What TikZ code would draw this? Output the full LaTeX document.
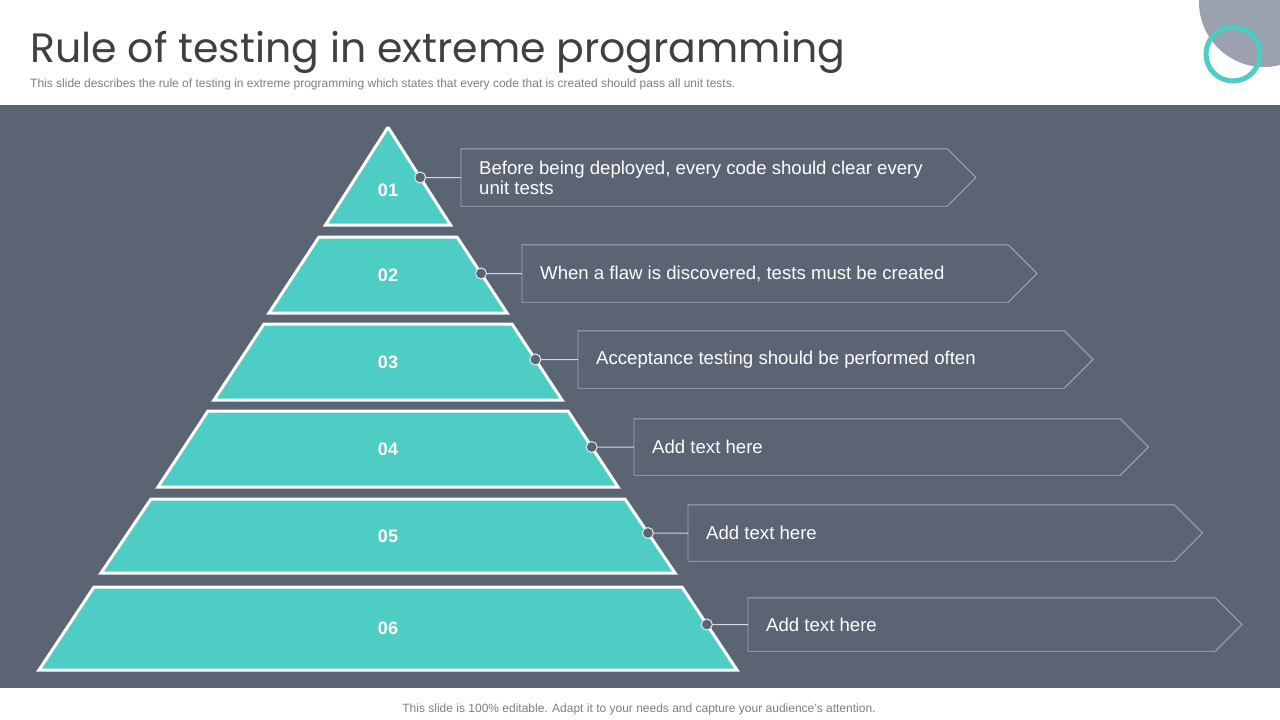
\documentclass[tikz,border=0pt]{standalone}
\usepackage{fontspec}
\setmainfont{Liberation Sans}
\newfontfamily\titlefont{Poppins}
\usepackage{xcolor}
\definecolor{xslate}{HTML}{5A6472}
\definecolor{xteal}{HTML}{4ECDC4}
\definecolor{xline}{HTML}{A3AAB5}
\definecolor{xtitle}{HTML}{404040}
\definecolor{xnote}{HTML}{7F7F7F}
\definecolor{xdisc}{HTML}{9BA2AF}
\usetikzlibrary{calc, positioning}
\tikzset{
  %% Styles %%
  layer/.style = {fill=xteal, draw=white, line width=3pt},
  layernum/.style = {text=white, font=\bfseries\fontsize{18}{20}\selectfont},
  rulebox/.style = {minimum width=#1, inner sep=0pt},
  ruleoutline/.style = {draw=xline, line width=0.9pt},
  ruletext/.style = {text=white, align=left, inner sep=0pt,
    font=\fontsize{18.6}{20}\selectfont},
  joint/.style = {circle, minimum size=11pt, inner sep=0pt,
    draw=white!85!xslate, fill=xslate, line width=1pt},
  link/.style = {draw=white!75!xslate, line width=1pt},
}
\begin{document}
\begin{tikzpicture}[x=1pt, y=-1pt]
  \useasboundingbox (0,0) rectangle (1280,720);
  \fill[white] (0,0) rectangle (1280,720);

  % Header
  \begin{scope}
    \clip (0,0) rectangle (1280,720);
    \fill[xdisc] (1264,2) circle (65);
  \end{scope}
  \draw[xteal, line width=5pt] (1233,54) circle (27);
  \node[anchor=base west, inner sep=0pt, text=xtitle,
    font=\titlefont\fontsize{41}{44}\selectfont] (title) at (30,62)
    {Rule of testing in extreme programming};
  \node[anchor=base west, inner sep=0pt, text=xnote,
    font=\fontsize{12}{14}\selectfont] (subtitle) at (30,87)
    {This slide describes the rule of testing in extreme programming which states that every code that is created should pass all unit tests.};

  % Body
  \fill[xslate] (0,105) rectangle (1280,688);

  \foreach \n/\t/\th/\b/\bh/\ly/\m/\bl/\br/\bt/\txt [count=\i] in {
      01/128/0.5/225/62.5/190/177.5/461/947/57/{Before being deployed, every code should clear every\\unit tests},
      02/237/69/313/119/275/273.5/522/1008/57/{When a flaw is discovered, tests must be created},
      03/324/124/400/174/362/359.5/578/1064/57/{Acceptance testing should be performed often},
      04/411/180/487/230/449/447/634/1120/56/{Add text here},
      05/499/237/573/287/536/533/688/1174/56/{Add text here},
      06/587/294/670/349/628/624.5/748/1215/53/{Add text here}}{
    % Pyramid layer
    \coordinate (tl\i) at ({388-\th},\t);
    \coordinate (tr\i) at ({388+\th},\t);
    \coordinate (br\i) at ({388+\bh},\b);
    \coordinate (bl\i) at ({388-\bh},\b);
    \draw[layer] (tl\i) -- (tr\i) -- (br\i) -- (bl\i) -- cycle;
    \node[layernum] (n\i) at (388,\ly) {\n};

    % Rule box
    \pgfmathsetmacro{\w}{\br-\bl}
    \node[rulebox={\w pt}, minimum height=\bt pt, anchor=west] (b\i) at (\bl,\m) {};
    \draw[ruleoutline] (b\i.north west) -- (b\i.north east)
      -- ($(b\i.east)+({\bt/2},0)$) -- (b\i.south east) -- (b\i.south west) -- cycle;
    \node[ruletext, right=18pt of b\i.west, anchor=west] (r\i) {\txt};

    % Joint and link
    \pgfmathsetmacro{\f}{(\m-\t)/(\b-\t)}
    \node[joint] (c\i) at ($(tr\i)!\f!(br\i)$) {};
    \draw[link] (c\i) -- (b\i.west);
  }

  % Footer
  \node[anchor=base, inner sep=0pt, text=xnote,
    font=\fontsize{12}{14}\selectfont] (footer) at (639,712)
    {This slide is 100\% editable. Adapt it to your needs and capture your audience's attention.};
\end{tikzpicture}
\end{document}
